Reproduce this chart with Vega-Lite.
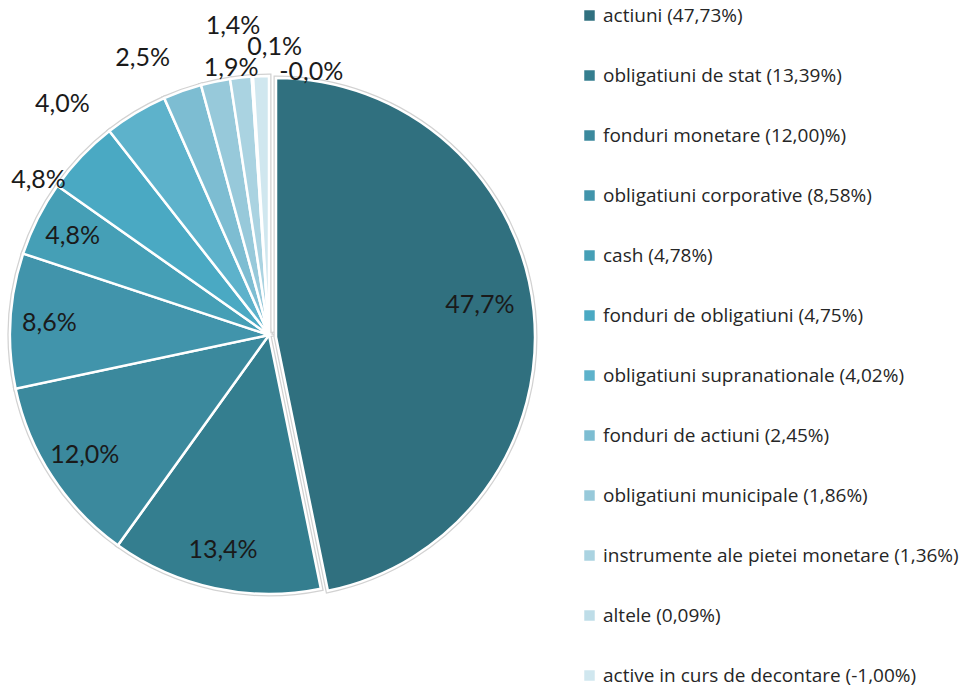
{
  "$schema": "https://vega.github.io/schema/vega-lite/v6.json",
  "width": 538,
  "height": 670,
  "autosize": "none",
  "padding": {"left": 0, "top": 0, "right": 425, "bottom": 16},
  "background": "white",
  "config": {"view": {"stroke": null}},
  "data": {
    "values": [
      {"ord": 1, "cat": "actiuni", "legend": "actiuni (47,73%)", "value": 47.73, "lbl": "47,7%"},
      {"ord": 2, "cat": "obligatiuni de stat", "legend": "obligatiuni de stat (13,39%)", "value": 13.39, "lbl": "13,4%"},
      {"ord": 3, "cat": "fonduri monetare", "legend": "fonduri monetare (12,00)%)", "value": 12.00, "lbl": "12,0%"},
      {"ord": 4, "cat": "obligatiuni corporative", "legend": "obligatiuni corporative (8,58%)", "value": 8.58, "lbl": "8,6%"},
      {"ord": 5, "cat": "cash", "legend": "cash (4,78%)", "value": 4.78, "lbl": "4,8%"},
      {"ord": 6, "cat": "fonduri de obligatiuni", "legend": "fonduri de obligatiuni (4,75%)", "value": 4.75, "lbl": "4,8%"},
      {"ord": 7, "cat": "obligatiuni supranationale", "legend": "obligatiuni supranationale (4,02%)", "value": 4.02, "lbl": "4,0%"},
      {"ord": 8, "cat": "fonduri de actiuni", "legend": "fonduri de actiuni (2,45%)", "value": 2.45, "lbl": "2,5%"},
      {"ord": 9, "cat": "obligatiuni municipale", "legend": "obligatiuni municipale (1,86%)", "value": 1.86, "lbl": "1,9%"},
      {"ord": 10, "cat": "instrumente ale pietei monetare", "legend": "instrumente ale pietei monetare (1,36%)", "value": 1.36, "lbl": "1,4%"},
      {"ord": 11, "cat": "altele", "legend": "altele (0,09%)", "value": 0.09, "lbl": "0,1%"},
      {"ord": 12, "cat": "active in curs de decontare", "legend": "active in curs de decontare (-1,00%)", "value": 1.00, "lbl": "-0,0%"}
    ]
  },
  "encoding": {
    "theta": {"field": "value", "type": "quantitative", "stack": true},
    "order": {"field": "ord", "type": "quantitative", "sort": "ascending"}
  },
  "layer": [
    {
      "mark": {
        "type": "arc",
        "outerRadius": 259,
        "stroke": "#d2d2d2",
        "strokeWidth": 5,
        "xOffset": {"expr": "datum.cat === 'actiuni' ? 7 : 0"},
        "yOffset": {"expr": "datum.cat === 'actiuni' ? 2 : 0"}
      },
      "encoding": {
        "color": {
          "field": "legend",
          "type": "nominal",
          "scale": {
            "domain": ["actiuni (47,73%)", "obligatiuni de stat (13,39%)", "fonduri monetare (12,00)%)", "obligatiuni corporative (8,58%)", "cash (4,78%)", "fonduri de obligatiuni (4,75%)", "obligatiuni supranationale (4,02%)", "fonduri de actiuni (2,45%)", "obligatiuni municipale (1,86%)", "instrumente ale pietei monetare (1,36%)", "altele (0,09%)", "active in curs de decontare (-1,00%)"],
            "range": ["#30707f", "#347e8f", "#3b899d", "#4194ab", "#459fb6", "#4aa9c3", "#5db2cb", "#7dbdd2", "#97c9da", "#aad3e1", "#bedde8", "#d0e7ef"]
          },
          "legend": {
            "orient": "none",
            "legendX": 580,
            "legendY": 6,
            "title": null,
            "symbolType": "square",
            "symbolSize": 110,
            "symbolStrokeWidth": 0,
            "labelFontSize": 19,
            "labelFont": "Open Sans",
            "labelColor": "#262626",
            "rowPadding": 40,
            "labelOffset": 4,
            "padding": 0,
            "labelLimit": 400
          }
        }
      }
    },
    {
      "mark": {
        "type": "arc",
        "outerRadius": 259,
        "stroke": "white",
        "strokeWidth": 2.5,
        "xOffset": {"expr": "datum.cat === 'actiuni' ? 7 : 0"},
        "yOffset": {"expr": "datum.cat === 'actiuni' ? 2 : 0"}
      },
      "encoding": {
        "color": {"field": "legend", "type": "nominal", "legend": null}
      }
    },
    {
      "mark": {
        "type": "text",
        "font": "Lato",
        "fontSize": 25,
        "fill": "#1a1a1a",
        "radius": {"expr": "datum.ord <= 5 ? 220 : 285"},
        "dx": {"expr": "datum.ord === 1 ? -8 : datum.ord === 6 ? -24 : datum.ord === 7 ? -60 : datum.ord === 8 ? -31 : datum.ord === 9 ? 21 : datum.ord === 10 ? -5 : datum.ord === 11 ? 24 : datum.ord === 12 ? 51 : 0"},
        "dy": {"expr": "datum.ord === 1 ? -8 : datum.ord === 6 ? 41 : datum.ord === 7 ? 13 : datum.ord === 8 ? -8 : datum.ord === 9 ? 12 : datum.ord === 10 ? -26 : datum.ord === 11 ? -4 : datum.ord === 12 ? 22 : 0"}
      },
      "encoding": {
        "text": {"field": "lbl", "type": "nominal"}
      }
    }
  ]
}
